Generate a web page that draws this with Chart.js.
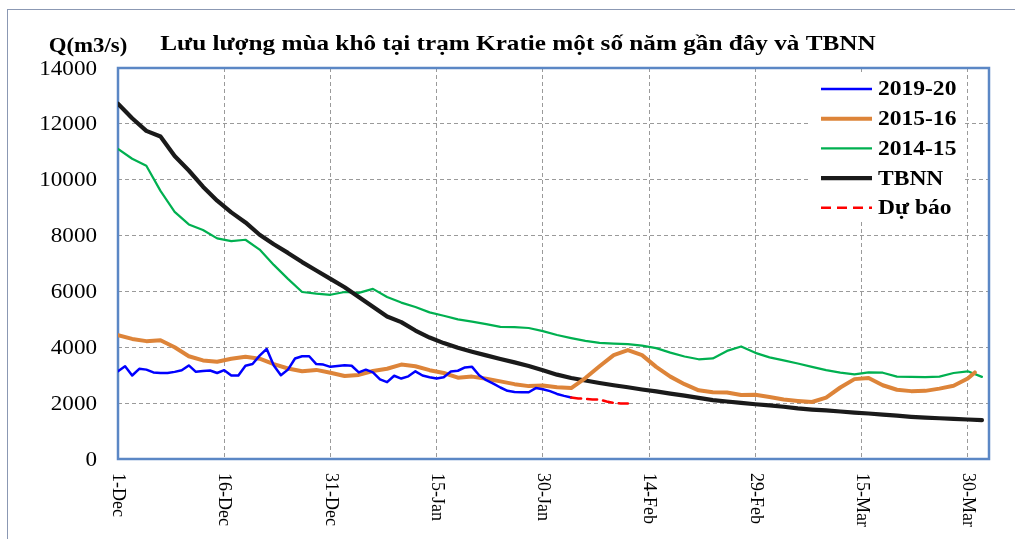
<!DOCTYPE html>
<html>
<head>
<meta charset="utf-8">
<script src="https://cdn.jsdelivr.net/npm/chart.js@4.4.1/dist/chart.umd.min.js"></script>
<style>
  html, body { margin: 0; padding: 0; background: #fff; }
  #wrap { position: relative; width: 1015px; height: 539px; overflow: hidden; }
  #frame { position: absolute; left: 7px; top: 9px; width: 1100px; height: 600px; border: 1.5px solid #8b98b3; }
  canvas { position: absolute; left: 0; top: 0; }
</style>
</head>
<body>
<div id="wrap">
  <div id="frame"></div>
  <canvas id="chart" width="1015" height="539"></canvas>
</div>
<script>
// day index 0 = 1-Dec (season 2019-20, leap February)
const tickDays   = [0, 15, 30, 45, 60, 75, 90, 105, 120];
const tickLabels = ['1-Dec', '16-Dec', '31-Dec', '15-Jan', '30-Jan', '14-Feb', '29-Feb', '15-Mar', '30-Mar'];

// 2019-20, daily from 1-Dec
const q2019 = [3140, 3320, 2990, 3230, 3200, 3100, 3080, 3080, 3120, 3180,
               3350, 3120, 3150, 3170, 3080, 3180, 2990, 2990, 3340, 3400,
               3700, 3940, 3350, 3000, 3200, 3600, 3680, 3680, 3400, 3380,
               3300, 3330, 3360, 3340, 3100, 3200, 3100, 2850, 2750, 2980,
               2880, 2960, 3140, 2990, 2930, 2880, 2930, 3130, 3160, 3280,
               3300, 3000, 2820, 2700, 2560, 2440, 2400, 2390, 2390, 2540,
               2500, 2430, 2330, 2260, 2200];

// forecast, daily from day 64
const forecastStart = 64;
const qForecast = [2200, 2170, 2150, 2130, 2130, 2060, 2010, 1990, 1985];

// the smoother series, every 2nd day from 1-Dec
const q2015 = [4430, 4300, 4220, 4250, 4000, 3680, 3530, 3480, 3590, 3660,
               3590, 3400, 3240, 3140, 3190, 3090, 2970, 3010, 3150, 3230,
               3380, 3320, 3180, 3080, 2910, 2950, 2870, 2780, 2680, 2610,
               2630, 2570, 2540, 2900, 3320, 3720, 3900, 3720, 3300, 2950,
               2680, 2460, 2390, 2380, 2290, 2300, 2220, 2130, 2080, 2040,
               2200, 2560, 2860, 2900, 2640, 2480, 2430, 2440, 2520, 2620,
               2880];
const q2015LastDay = 121;
const q2015Last = 3100;

const q2014 = [11100, 10750, 10500, 9600, 8850, 8400, 8200, 7900, 7800, 7850,
               7500, 6950, 6450, 5980, 5920, 5880, 5980, 5950, 6090, 5800,
               5600, 5440, 5250, 5130, 5000, 4920, 4830, 4730, 4720, 4690,
               4580, 4440, 4330, 4230, 4160, 4130, 4110, 4060, 3970, 3810,
               3670, 3570, 3600, 3870, 4030, 3800, 3640, 3530, 3420, 3300,
               3180, 3090, 3030, 3100, 3090, 2950, 2940, 2930, 2950, 3080,
               3140, 2940];

const qTBNN = [12720, 12200, 11750, 11550, 10850, 10330, 9750, 9250, 8830, 8470,
               8030, 7690, 7380, 7050, 6750, 6450, 6150, 5800, 5450, 5100,
               4900, 4600, 4350, 4150, 3980, 3840, 3710, 3580, 3460, 3330,
               3180, 3020, 2900, 2810, 2720, 2640, 2570, 2490, 2420, 2340,
               2270, 2190, 2110, 2060, 2010, 1960, 1920, 1870, 1810, 1770,
               1740, 1700, 1660, 1630, 1590, 1550, 1510, 1480, 1460, 1440,
               1415, 1390];

const daily = (arr, start = 0) => arr.map((y, i) => ({ x: start + i, y }));
const every2 = arr => arr.map((y, i) => ({ x: i * 2, y }));

const FONT = '"Liberation Serif", "Times New Roman", serif';

// text in the original is a bit wider than the font, stretch it
function wideText(ctx, text, x, y, sx) {
  ctx.save();
  ctx.translate(x, y);
  ctx.scale(sx, 1);
  ctx.fillText(text, 0, 0);
  ctx.restore();
}

const overlay = {
  id: 'overlay',
  beforeDatasetsDraw(chart) {
    const { ctx, chartArea: a } = chart;
    ctx.save();
    ctx.strokeStyle = '#5b87c5';
    ctx.lineWidth = 2.5;
    ctx.strokeRect(a.left, a.top, a.right - a.left, a.bottom - a.top);
    ctx.restore();
  },
  afterDraw(chart) {
    const { ctx, chartArea: a } = chart;
    const xs = chart.scales.x;
    const ys = chart.scales.y;
    ctx.save();
    ctx.fillStyle = '#000';

    // title + unit
    ctx.font = 'bold 21px ' + FONT;
    ctx.textBaseline = 'alphabetic';
    ctx.textAlign = 'center';
    wideText(ctx, 'Lưu lượng mùa khô tại trạm Kratie một số năm gần đây và TBNN', 518, 50, 1.2);
    ctx.font = 'bold 20px ' + FONT;
    wideText(ctx, 'Q(m3/s)', 88, 52, 1.14);

    // y labels
    ctx.font = '21px ' + FONT;
    ctx.textAlign = 'right';
    ctx.textBaseline = 'middle';
    ys.ticks.forEach(t => {
      wideText(ctx, String(t.value), 97, ys.getPixelForValue(t.value) + 1, 1.1);
    });

    // x labels, rotated clockwise
    ctx.font = '18px ' + FONT;
    ctx.textAlign = 'left';
    ctx.textBaseline = 'middle';
    tickDays.forEach((d, i) => {
      ctx.save();
      ctx.translate(xs.getPixelForValue(d), a.bottom + 14);
      ctx.rotate(Math.PI / 2);
      ctx.fillText(tickLabels[i], 0, 0);
      ctx.restore();
    });

    // legend
    ctx.fillStyle = '#fff';
    ctx.fillRect(811, 74, 154, 148);
    ctx.font = 'bold 21px ' + FONT;
    ctx.textAlign = 'left';
    ctx.textBaseline = 'middle';
    chart.data.datasets.forEach((ds, i) => {
      const y = 89 + i * 29.7;
      ctx.strokeStyle = ds.borderColor;
      ctx.lineWidth = ds.borderWidth;
      ctx.setLineDash(ds.borderDash || []);
      ctx.beginPath();
      ctx.moveTo(821, y);
      ctx.lineTo(872, y);
      ctx.stroke();
      ctx.fillStyle = '#000';
      wideText(ctx, ds.label, 878, y + 1, 1.12);
    });
    ctx.restore();
  }
};

new Chart(document.getElementById('chart'), {
  type: 'line',
  data: {
    datasets: [
      { label: '2019-20', data: daily(q2019), borderColor: '#0000ff', borderWidth: 2.5, order: 1 },
      { label: '2015-16', data: [...every2(q2015), { x: q2015LastDay, y: q2015Last }], borderColor: '#dd8439', borderWidth: 4, order: 2 },
      { label: '2014-15', data: every2(q2014), borderColor: '#00b050', borderWidth: 2.2, order: 4 },
      { label: 'TBNN', data: every2(qTBNN), borderColor: '#1a1a1a', borderWidth: 4.2, order: 3 },
      { label: 'Dự báo', data: daily(qForecast, forecastStart), borderColor: '#ff0000', borderWidth: 2.5, borderDash: [10, 6], order: 0 },
    ],
  },
  options: {
    responsive: false,
    animation: false,
    devicePixelRatio: 1,
    layout: { padding: { left: 0, top: 68, right: 26, bottom: 0 } },
    elements: { point: { radius: 0 }, line: { tension: 0, borderCapStyle: 'round', borderJoinStyle: 'round' } },
    plugins: { legend: { display: false }, title: { display: false }, tooltip: { enabled: false } },
    scales: {
      x: {
        type: 'linear',
        min: 0,
        max: 123,
        afterBuildTicks: s => { s.ticks = tickDays.map(v => ({ value: v })); },
        afterFit: s => { s.height = 80; },
        ticks: { display: false },
        grid: { color: '#9a9a9a', lineWidth: 1, drawTicks: false },
        border: { display: false, dash: [4, 3] },
      },
      y: {
        min: 0,
        max: 14000,
        afterFit: s => { s.width = 118; },
        ticks: { stepSize: 2000, display: false },
        grid: { color: '#9a9a9a', lineWidth: 1, drawTicks: false },
        border: { display: false, dash: [4, 3] },
      },
    },
  },
  plugins: [overlay],
});
</script>
</body>
</html>
